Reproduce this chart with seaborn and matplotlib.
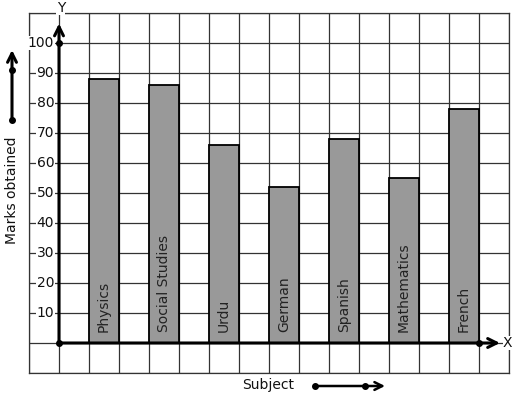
import matplotlib
matplotlib.use("Agg")
import matplotlib.pyplot as plt
import seaborn as sns
import numpy as np

subjects = ["Physics", "Social Studies", "Urdu", "German", "Spanish", "Mathematics", "French"]
marks = [88, 86, 66, 52, 68, 55, 78]
ytick_values = [10, 20, 30, 40, 50, 60, 70, 80, 90, 100]

sns.set_style("white")
plt.rcParams['font.family'] = ['DejaVu Sans']

W, H = 517, 399
fig = plt.figure(figsize=(W / 100, H / 100), dpi=100)
ax = fig.add_axes([29 / W, (H - 373) / H, 480 / W, 360 / H])

sns.barplot(x=subjects, y=marks, color='#999999', width=0.5, edgecolor='black',
            linewidth=1.3, saturation=1, ax=ax, zorder=3)

ax.set_xlim(-1.25, 6.75)
ax.set_ylim(-10, 110)
ax.set_xticks(np.arange(-1.25, 6.76, 0.5))
ax.set_yticks(np.arange(-10, 111, 10))
ax.set_xticklabels([])
ax.set_yticklabels([])
ax.tick_params(length=0)
ax.set_xlabel('')
ax.set_ylabel('')
ax.set_axisbelow(True)
ax.grid(True, color='#333333', lw=0.9)
for s in ax.spines.values():
    s.set_color('#333333')
    s.set_linewidth(0.9)

# bar labels
for i, name in enumerate(subjects):
    ax.text(i, 3.7, name, rotation=90, ha='center', va='bottom', fontsize=10,
            color='#222222', zorder=5)

# y tick labels
for v in ytick_values:
    ax.text(-0.83, v, str(v), ha='right', va='center', fontsize=10, color='#111111',
            bbox=dict(facecolor='white', edgecolor='none', pad=0.3), zorder=4)

# axes with arrows
ax.annotate('', xy=(6.6, 0), xytext=(-0.75, 0),
            arrowprops=dict(arrowstyle='->', lw=2.2, color='black', mutation_scale=16,
                            shrinkA=0, shrinkB=0), zorder=6)
ax.annotate('', xy=(-0.75, 106.5), xytext=(-0.75, 0),
            arrowprops=dict(arrowstyle='->', lw=2.2, color='black', mutation_scale=16,
                            shrinkA=0, shrinkB=0), zorder=6)
ax.plot([-0.75, 6.25, -0.75], [0, 0, 100], 'ko', ms=4, zorder=7, clip_on=False)
ax.text(6.73, 0, 'X', ha='center', va='center', fontsize=10, color='#111111',
        bbox=dict(facecolor='white', edgecolor='none', pad=0.3), zorder=6)
ax.text(-0.72, 111.7, 'Y', ha='center', va='center', fontsize=10, color='#111111',
        bbox=dict(facecolor='white', edgecolor='none', pad=0.3), zorder=6, clip_on=False)

# outside labels and indicator arrows
fig.text(12 / W, 1 - 190 / H, 'Marks obtained', rotation=90, ha='center', va='center',
         fontsize=10, color='#111111')
fig.text(268 / W, 1 - 385 / H, 'Subject', ha='center', va='center', fontsize=10,
         color='#111111')

fig.patches.append(matplotlib.patches.FancyArrowPatch(
    (12, H - 120), (12, H - 50), transform=None, arrowstyle='->', lw=2.2,
    color='black', mutation_scale=16, shrinkA=0, shrinkB=0))
fig.patches.append(matplotlib.patches.FancyArrowPatch(
    (315, H - 386), (385, H - 386), transform=None, arrowstyle='->', lw=1.8,
    color='black', mutation_scale=14, shrinkA=0, shrinkB=0))
fig.lines.append(matplotlib.lines.Line2D([12, 12, 315, 365], [H - 120, H - 70, H - 386, H - 386],
                                         transform=None, ls='none', marker='o', ms=4,
                                         color='black'))

fig.savefig('out.png', dpi=100)
